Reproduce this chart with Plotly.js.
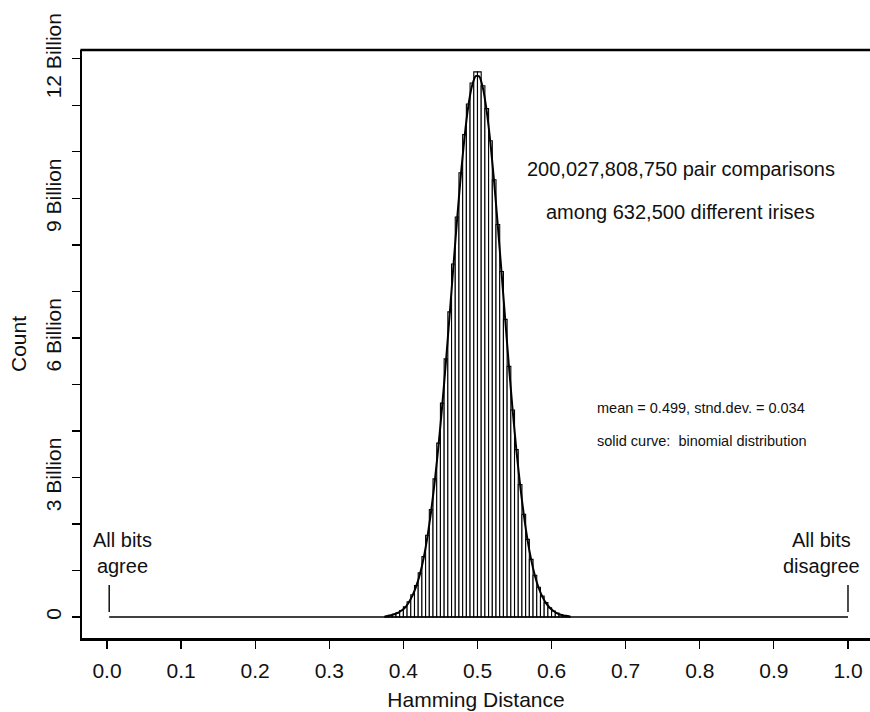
<!DOCTYPE html>
<html>
<head>
<meta charset="utf-8">
<script src="https://cdn.plot.ly/plotly-3.0.1.min.js"></script>
<style>html,body{margin:0;padding:0;background:#fff;overflow:hidden;}#chart{width:870px;height:712px;}</style>
</head>
<body>
<div id="chart"></div>
<script>
// Bin centres (bin width 0.005) of Hamming distance
var binCenters = [0.3775,0.3825,0.3875,0.3925,0.3975,0.4025,0.4075,0.4125,0.4175,0.4225,
  0.4275,0.4325,0.4375,0.4425,0.4475,0.4525,0.4575,0.4625,0.4675,0.4725,
  0.4775,0.4825,0.4875,0.4925,0.4975,0.5025,0.5075,0.5125,0.5175,0.5225,
  0.5275,0.5325,0.5375,0.5425,0.5475,0.5525,0.5575,0.5625,0.5675,0.5725,
  0.5775,0.5825,0.5875,0.5925,0.5975,0.6025,0.6075,0.6125,0.6175,0.6225];
// Histogram counts (billions)
var histCounts = [0.02,0.04,0.06,0.09,0.14,0.22,0.33,0.48,0.68,0.95,
  1.30,1.76,2.31,2.97,3.74,4.60,5.55,6.56,7.59,8.60,
  9.55,10.37,11.03,11.48,11.72,11.72,11.42,10.93,10.24,9.40,
  8.44,7.43,6.40,5.39,4.45,3.60,2.85,2.21,1.67,1.24,
  0.90,0.64,0.45,0.31,0.20,0.13,0.085,0.05,0.03,0.02];
// Solid curve: binomial distribution (billions)
var curveX = [0.375].concat(binCenters).concat([0.625]);
var curveY = [0,0.02,0.035,0.06,0.09,0.14,0.21,0.32,0.47,0.67,0.93,
  1.28,1.73,2.28,2.94,3.70,4.56,5.50,6.51,7.54,8.55,
  9.49,10.31,10.97,11.41,11.63,11.62,11.36,10.87,10.19,9.35,
  8.40,7.40,6.38,5.38,4.44,3.59,2.84,2.20,1.66,1.23,
  0.89,0.63,0.44,0.30,0.20,0.13,0.08,0.05,0.03,0.02,0];
// zero-count baseline from all-agree to all-disagree
var baseX = [0.003, 1.0];
var baseY = [0, 0];
// little markers at the extremes
var markLeftX = [0.003, 0.003];
var markRightX = [1.0, 1.0];
var markY = [0.11, 0.69];
// axis ticks
var xTicks = [0,0.1,0.2,0.3,0.4,0.5,0.6,0.7,0.8,0.9,1.0];
var xTickText = ["0.0","0.1","0.2","0.3","0.4","0.5","0.6","0.7","0.8","0.9","1.0"];
var yTicks = [0,1,2,3,4,5,6,7,8,9,10,11,12];
var yTickText = ["0","","","3 Billion","","","6 Billion","","","9 Billion","","","12 Billion"];

var FONT = '"Liberation Sans", Arial, Helvetica, sans-serif';
var traces = [
  {type:'scatter', mode:'lines', x:baseX, y:baseY, line:{color:'#000', width:1.6}, hoverinfo:'skip', showlegend:false},
  {type:'bar', x:binCenters, y:histCounts, width:0.005,
   marker:{color:'#fff', line:{color:'#000', width:1.1}}, hoverinfo:'skip', showlegend:false},
  {type:'scatter', mode:'lines', x:curveX, y:curveY, line:{color:'#000', width:2, shape:'spline', smoothing:0.6}, hoverinfo:'skip', showlegend:false},
  {type:'scatter', mode:'lines', x:markLeftX, y:markY, line:{color:'#000', width:1.4}, hoverinfo:'skip', showlegend:false},
  {type:'scatter', mode:'lines', x:markRightX, y:markY, line:{color:'#000', width:1.4}, hoverinfo:'skip', showlegend:false}
];

var layout = {
  width:870, height:712,
  margin:{l:82, r:0, t:50, b:74, pad:0},
  paper_bgcolor:'#fff', plot_bgcolor:'#fff',
  font:{family:FONT, color:'#111', size:20},
  bargap:0,
  showlegend:false,
  xaxis:{range:[-0.0337, 1.0297], showgrid:false, zeroline:false, automargin:false,
    showline:true, linecolor:'#000', linewidth:2.5, mirror:false,
    ticks:'outside', ticklen:8, tickwidth:1.2, tickcolor:'#000', ticklabelstandoff:4,
    tickvals:xTicks, ticktext:xTickText, tickfont:{size:21, family:FONT, color:'#111'},
    title:{text:'Hamming Distance', font:{size:21, family:FONT, color:'#111'}, standoff:12}},
  yaxis:{range:[-0.45, 12.19], showgrid:false, zeroline:false, automargin:false,
    showline:true, linecolor:'#000', linewidth:2.5, mirror:false,
    ticks:'outside', ticklen:8, tickwidth:1.2, tickcolor:'#000', ticklabelstandoff:2,
    tickvals:yTicks, ticktext:yTickText, tickangle:-90,
    tickfont:{size:21, family:FONT, color:'#111'},
    title:{text:'Count', font:{size:21, family:FONT, color:'#111'}, standoff:10}},
  shapes:[
    {type:'line', xref:'paper', yref:'paper', x0:-0.002, x1:1.01, y0:1, y1:1, line:{color:'#000', width:2.5}}
  ],
  annotations:[
    {x:0.7746, y:9.63, xref:'x', yref:'y', text:'200,027,808,750 pair comparisons', showarrow:false, font:{size:20, family:FONT, color:'#111'}},
    {x:0.7746, y:8.71, xref:'x', yref:'y', text:'among 632,500 different irises', showarrow:false, font:{size:20, family:FONT, color:'#111'}},
    {x:0.6586, y:4.49, xref:'x', yref:'y', xanchor:'left', text:'mean = 0.499, stnd.dev. = 0.034', showarrow:false, font:{size:14.5, family:FONT, color:'#111'}},
    {x:0.6586, y:3.79, xref:'x', yref:'y', xanchor:'left', text:'solid curve:  binomial distribution', showarrow:false, font:{size:14.5, family:FONT, color:'#111'}},
    {x:0.0205, y:1.37, xref:'x', yref:'y', text:'All bits<br>agree', align:'center', showarrow:false, font:{size:20, family:FONT, color:'#111'}},
    {x:0.9636, y:1.37, xref:'x', yref:'y', text:'All bits<br>disagree', align:'center', showarrow:false, font:{size:20, family:FONT, color:'#111'}}
  ]
};
Plotly.newPlot('chart', traces, layout, {staticPlot:true, displayModeBar:false});
</script>
</body>
</html>
